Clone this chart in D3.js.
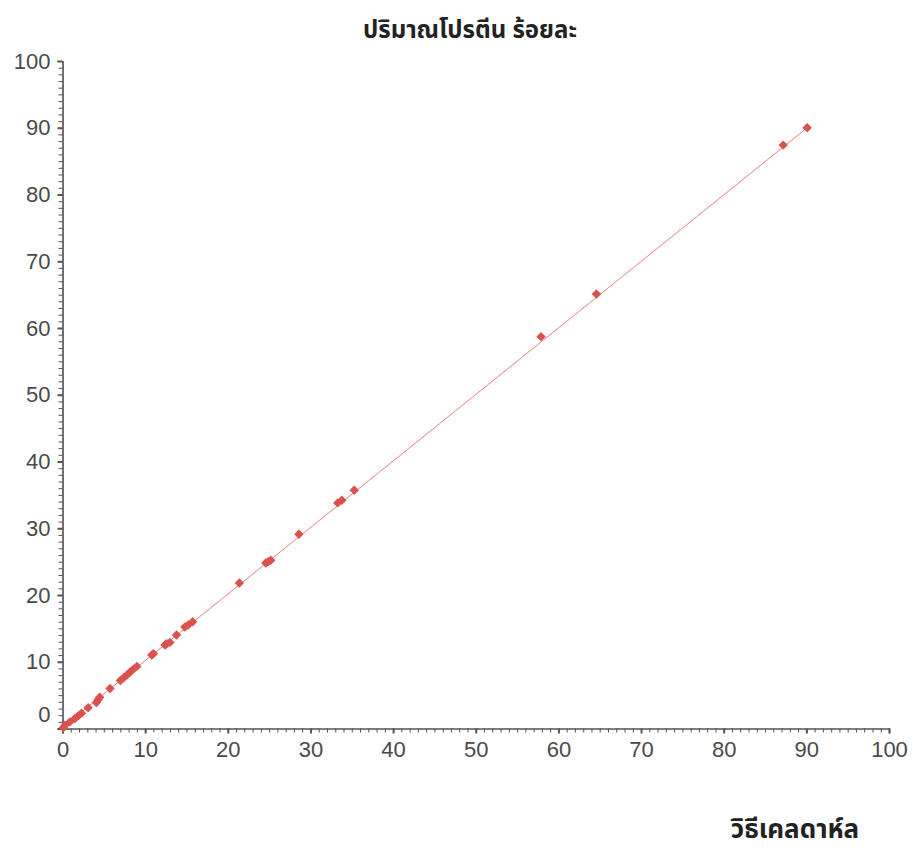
<!DOCTYPE html>
<html>
<head>
<meta charset="utf-8">
<script src="https://cdn.jsdelivr.net/npm/d3@7"></script>
<style>
  html, body { margin: 0; padding: 0; background: #fff; }
  svg { display: block; }
</style>
</head>
<body>
<svg id="chart" width="913" height="853"></svg>
<script>
// ---- data ----
const xValues = [0.1, 0.3, 0.9, 1.5, 1.9, 2.3, 3.1, 4.1, 4.3, 4.5, 5.75, 7.0, 7.4, 7.8, 8.2, 8.6, 9.0,
                 10.8, 11.0, 12.4, 12.6, 13.0, 13.8, 14.8, 15.2, 15.75, 21.4, 24.6, 24.9, 25.2, 28.6,
                 33.3, 33.8, 35.3, 57.9, 64.6, 87.2, 90.1];
const yValues = [0.1, 0.5, 1.0, 1.5, 1.9, 2.3, 3.1, 3.9, 4.3, 4.7, 6.0, 7.2, 7.6, 8.0, 8.5, 8.9, 9.3,
                 11.0, 11.2, 12.5, 12.7, 12.9, 14.0, 15.2, 15.5, 16.0, 21.8, 24.8, 25.0, 25.2, 29.1,
                 33.8, 34.2, 35.7, 58.7, 65.1, 87.4, 90.0];
const fitX = [0, 90.1];
const fitY = [0.2, 90.0];
const xTicks = [0, 10, 20, 30, 40, 50, 60, 70, 80, 90, 100];
const yTicks = [0, 10, 20, 30, 40, 50, 60, 70, 80, 90, 100];
const minorTicks = d3.range(0, 101, 1);
const titleText = "ปริมาณโปรตีน ร้อยละ";
const xLabelText = "วิธีเคลดาห์ล";

// ---- layout ----
const svg = d3.select("#chart");
const x = d3.scaleLinear().domain([0, 100]).range([62.5, 889]);
const y = d3.scaleLinear().domain([0, 100]).range([728.5, 61]);
const axisColor = "#555";
const labelColor = "#4a4a4a";
const numFont = "'Liberation Sans', Arial, sans-serif";
const thaiFont = "'Noto Sans Thai', 'Loma', 'Garuda', 'Tlwg Typist', 'DejaVu Sans', sans-serif";

// title
svg.append("text")
  .attr("x", 470).attr("y", 38)
  .attr("text-anchor", "middle")
  .attr("font-family", thaiFont)
  .attr("font-weight", "bold")
  .attr("font-size", 24)
  .attr("fill", "#222")
  .text(titleText);

// x label
svg.append("text")
  .attr("x", 795).attr("y", 838)
  .attr("text-anchor", "middle")
  .attr("font-family", thaiFont)
  .attr("font-weight", "bold")
  .attr("font-size", 26)
  .attr("fill", "#222")
  .text(xLabelText);

function styleAxis(g) {
  g.select(".domain").attr("stroke", axisColor).attr("stroke-width", 1.2);
  g.selectAll(".tick line").attr("stroke", axisColor);
}

// minor ticks
const gxMinor = svg.append("g").attr("transform", `translate(0,${y(0)})`)
  .call(d3.axisBottom(x).tickValues(minorTicks).tickSize(4).tickFormat(""));
styleAxis(gxMinor);
gxMinor.selectAll(".tick line").attr("stroke-width", 1);

const gyMinor = svg.append("g").attr("transform", `translate(${x(0)},0)`)
  .call(d3.axisLeft(y).tickValues(minorTicks).tickSize(4).tickFormat(""));
styleAxis(gyMinor);
gyMinor.selectAll(".tick line").attr("stroke-width", 1);

// major ticks + labels
const gx = svg.append("g").attr("transform", `translate(0,${y(0)})`)
  .call(d3.axisBottom(x).tickValues(xTicks).tickSize(5).tickPadding(8).tickFormat(d3.format("d")));
styleAxis(gx);
gx.selectAll(".tick line").attr("stroke-width", 2);
gx.selectAll(".tick text")
  .attr("font-family", numFont).attr("font-size", 22).attr("fill", labelColor);

const gy = svg.append("g").attr("transform", `translate(${x(0)},0)`)
  .call(d3.axisLeft(y).tickValues(yTicks).tickSize(5).tickPadding(7).tickFormat(d3.format("d")));
styleAxis(gy);
gy.selectAll(".tick line").attr("stroke-width", 2);
gy.selectAll(".tick text")
  .attr("font-family", numFont).attr("font-size", 22).attr("fill", labelColor);
gy.selectAll(".tick").filter(d => d === 0).select("text").attr("dy", "-0.3em");

// fit line
svg.append("path")
  .datum(fitX.map((d, i) => [d, fitY[i]]))
  .attr("d", d3.line().x(d => x(d[0])).y(d => y(d[1])))
  .attr("fill", "none")
  .attr("stroke", "#ea8078")
  .attr("stroke-width", 1);

// points
svg.append("g").selectAll("path")
  .data(xValues.map((d, i) => [d, yValues[i]]))
  .join("path")
  .attr("d", d3.symbol().type(d3.symbolSquare).size(44))
  .attr("transform", d => `translate(${x(d[0])},${y(d[1])}) rotate(45)`)
  .attr("fill", "#da524d");
</script>
</body>
</html>
